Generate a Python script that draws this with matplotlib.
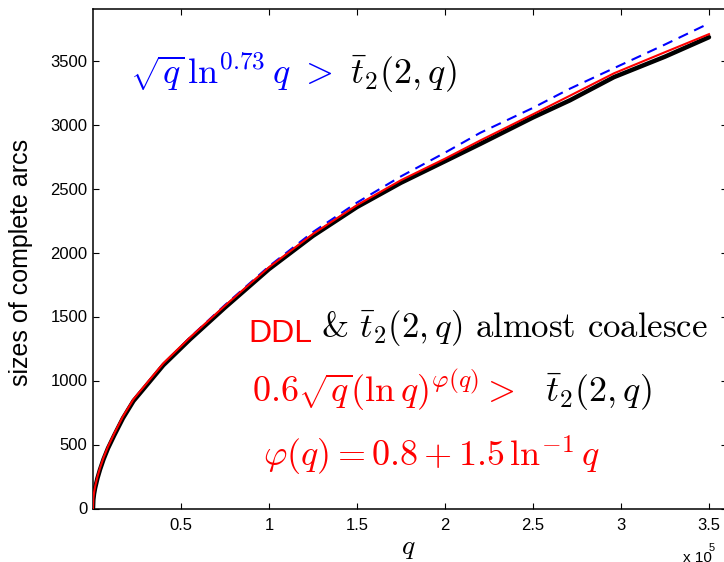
import numpy as np
import matplotlib
matplotlib.use('Agg')
import matplotlib.pyplot as plt

plt.rcParams['font.family'] = ['Liberation Sans', 'DejaVu Sans']
plt.rcParams['mathtext.fontset'] = 'cm'

# valores (q en unidades de 1e5)
q_vals = [0, 0.002, 0.006, 0.012, 0.025, 0.04, 0.06, 0.085, 0.12, 0.17,
          0.23, 0.3, 0.4, 0.55, 0.75, 1.0, 1.25, 1.5, 1.75, 2.0, 2.2, 2.5,
          2.71, 2.96, 3.25, 3.5]
t2_vals = [0, 70, 115, 160, 235, 305, 385, 470, 570, 705, 840, 955, 1120,
           1320, 1570, 1870, 2130, 2355, 2545, 2713, 2848, 3055, 3189, 3370,
           3530, 3682]
ddl_vals = [0, 78, 125, 172, 247, 318, 398, 483, 584, 719, 854, 970, 1135,
            1335, 1585, 1885, 2145, 2370, 2565, 2733, 2875, 3080, 3225, 3400,
            3565, 3706]
cota_vals = [0, 65, 112, 158, 235, 307, 389, 476, 578, 714, 850, 965, 1130,
             1335, 1590, 1892, 2160, 2390, 2595, 2780, 2935, 3130, 3280, 3440,
             3625, 3790]

xticks = [0.5, 1, 1.5, 2, 2.5, 3, 3.5]
xtick_labels = ['0.5', '1', '1.5', '2', '2.5', '3', '3.5']
yticks = [0, 500, 1000, 1500, 2000, 2500, 3000, 3500]

W, H = 724, 562
fig = plt.figure(figsize=(W/100, H/100), dpi=100)
ax = fig.add_axes([93/W, (H-508.5)/H, 633.6/W, 499.2/H])

q = np.array(q_vals)*1e5
ax.plot(q, cota_vals, color=(0, 0, 1), lw=1.5, ls=(0, (5, 3.3)), zorder=1)
ax.plot(q, t2_vals, color='k', lw=3.2, solid_capstyle='round',
        solid_joinstyle='round', zorder=2)
ax.plot(q, ddl_vals, color=(1, 0, 0), lw=1.5, zorder=3)

ax.set_xlim(0, 3.6e5)
ax.set_ylim(0, 3900)
ax.set_xticks(np.array(xticks)*1e5)
ax.set_xticklabels(xtick_labels)
ax.set_yticks(yticks)
ax.tick_params(direction='in', length=4.3, width=0.8, top=True, right=True,
               labelsize=12)
ax.tick_params(axis='x', pad=7)
ax.tick_params(axis='y', pad=4)
for s in ax.spines.values():
    s.set_linewidth(1.1)

ax.set_ylabel('sizes of complete arcs', fontsize=18)
ax.yaxis.set_label_coords((33-93)/633.6, (508.5-262)/499.2)
ax.set_xlabel(r'$q$', fontsize=20)
ax.xaxis.set_label_coords((408-93)/633.6, (508.5-535)/499.2)

def texto(xp, yp, s, color, size=26, **kw):
    fig.text(xp/W, 1-yp/H, s, color=color, fontsize=size, ha='left',
             va='baseline', **kw)

texto(130, 84, r'$\sqrt{q}\,\ln^{0.73}q\ >$', (0, 0, 1))
texto(350, 84, r'$\bar{t}_2(2,q)$', 'k')
texto(248, 342, 'DDL', (1, 0, 0), size=23)
texto(321, 338, r'& $\bar{t}_2(2,q)$ almost coalesce', 'k', family='cmr10',
      size=25)
texto(252, 402, r'$0.6\sqrt{q}(\ln q)^{\varphi(q)}>$', (1, 0, 0))
texto(545, 402, r'$\bar{t}_2(2,q)$', 'k')
texto(263, 467, r'$\varphi(q)=0.8+1.5\,\ln^{-1}q$', (1, 0, 0))

fig.text(683/W, 1-562/H, 'x 10', fontsize=11, ha='left', va='baseline')
fig.text(709/W, 1-551/H, '5', fontsize=8, ha='left', va='baseline')

fig.savefig('out.png', dpi=100)
